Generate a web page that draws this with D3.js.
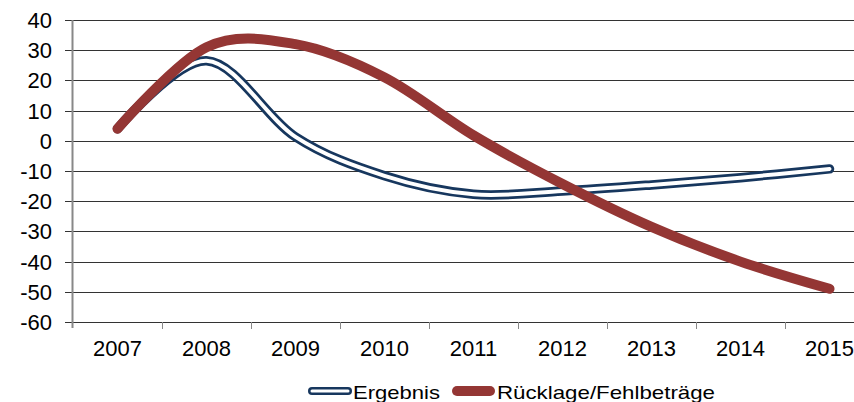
<!DOCTYPE html>
<html><head><meta charset="utf-8">
<script src="https://cdn.jsdelivr.net/npm/d3@7"></script>
<style>body{margin:0;background:#fff}svg{display:block}text{font-family:"Liberation Sans",Arial,sans-serif;fill:#000}</style>
</head><body>
<svg id="c" width="854" height="402"></svg>
<script>
const years = ["2007","2008","2009","2010","2011","2012","2013","2014","2015"];
const ergebnis = [4, 26.5, 1.3, -11.6, -17.7, -16.6, -14.6, -12.2, -9.3];
const ruecklage = [4, 31, 32, 21, 1.8, -14.3, -28.5, -40, -49];
const yTicks = [40,30,20,10,0,-10,-20,-30,-40,-50,-60];
const seriesNames = ["Ergebnis","Rücklage/Fehlbeträge"];

const svg = d3.select("#c");
const x0 = 73, x1 = 874, yTop = 20, yBot = 322;
const x = d3.scalePoint().domain(years).range([x0, x1]).padding(0.5);
const xb = d3.scaleBand().domain(years).range([x0, x1]);
const y = d3.scaleLinear().domain([-60, 40]).range([yBot, yTop]);

svg.append("g").selectAll("line").data(yTicks).join("line")
  .attr("x1", 65).attr("x2", 854)
  .attr("y1", d => Math.round(y(d)) + 0.5).attr("y2", d => Math.round(y(d)) + 0.5)
  .attr("stroke", "#333").attr("stroke-width", 1);

svg.append("line").attr("x1", 72.5).attr("x2", 72.5).attr("y1", yTop).attr("y2", yBot + 6)
  .attr("stroke", "#888").attr("stroke-width", 2);

svg.append("g").selectAll("line").data(years.slice(1)).join("line")
  .attr("x1", d => Math.round(xb(d)) + 0.5).attr("x2", d => Math.round(xb(d)) + 0.5)
  .attr("y1", yBot).attr("y2", yBot + 7)
  .attr("stroke", "#888").attr("stroke-width", 1);

svg.append("g").selectAll("text").data(yTicks).join("text")
  .attr("x", 52).attr("y", d => y(d) + 8)
  .attr("text-anchor", "end").attr("font-size", 22).text(d => d);

svg.append("g").selectAll("text").data(years).join("text")
  .attr("x", d => x(d)).attr("y", 356)
  .attr("text-anchor", "middle").attr("font-size", 22).text(d => d);

const line = d3.line().x((d, i) => x(years[i])).y(d => y(d)).curve(d3.curveCardinal.tension(0));

const blue = "#17375e", red = "#943634";
svg.append("path").attr("d", line(ergebnis)).attr("fill", "none")
  .attr("stroke", blue).attr("stroke-width", 9.5).attr("stroke-linecap", "round").attr("stroke-linejoin", "round");
svg.append("path").attr("d", line(ergebnis)).attr("fill", "none")
  .attr("stroke", "#fff").attr("stroke-width", 4).attr("stroke-linecap", "round").attr("stroke-linejoin", "round");
svg.append("path").attr("d", line(ruecklage)).attr("fill", "none")
  .attr("stroke", red).attr("stroke-width", 10).attr("stroke-linecap", "round").attr("stroke-linejoin", "round");

const ly = 391;
svg.append("line").attr("x1", 312).attr("x2", 348).attr("y1", ly).attr("y2", ly)
  .attr("stroke", blue).attr("stroke-width", 8).attr("stroke-linecap", "round");
svg.append("line").attr("x1", 312).attr("x2", 348).attr("y1", ly).attr("y2", ly)
  .attr("stroke", "#fff").attr("stroke-width", 3).attr("stroke-linecap", "round");
svg.append("text").attr("x", 353).attr("y", 398.5).attr("font-size", 19)
  .attr("textLength", 87).attr("lengthAdjust", "spacingAndGlyphs").text(seriesNames[0]);
svg.append("line").attr("x1", 457).attr("x2", 490).attr("y1", ly).attr("y2", ly)
  .attr("stroke", red).attr("stroke-width", 10).attr("stroke-linecap", "round");
svg.append("text").attr("x", 497).attr("y", 398.5).attr("font-size", 19)
  .attr("textLength", 218).attr("lengthAdjust", "spacingAndGlyphs").text(seriesNames[1]);
</script>
</body></html>
